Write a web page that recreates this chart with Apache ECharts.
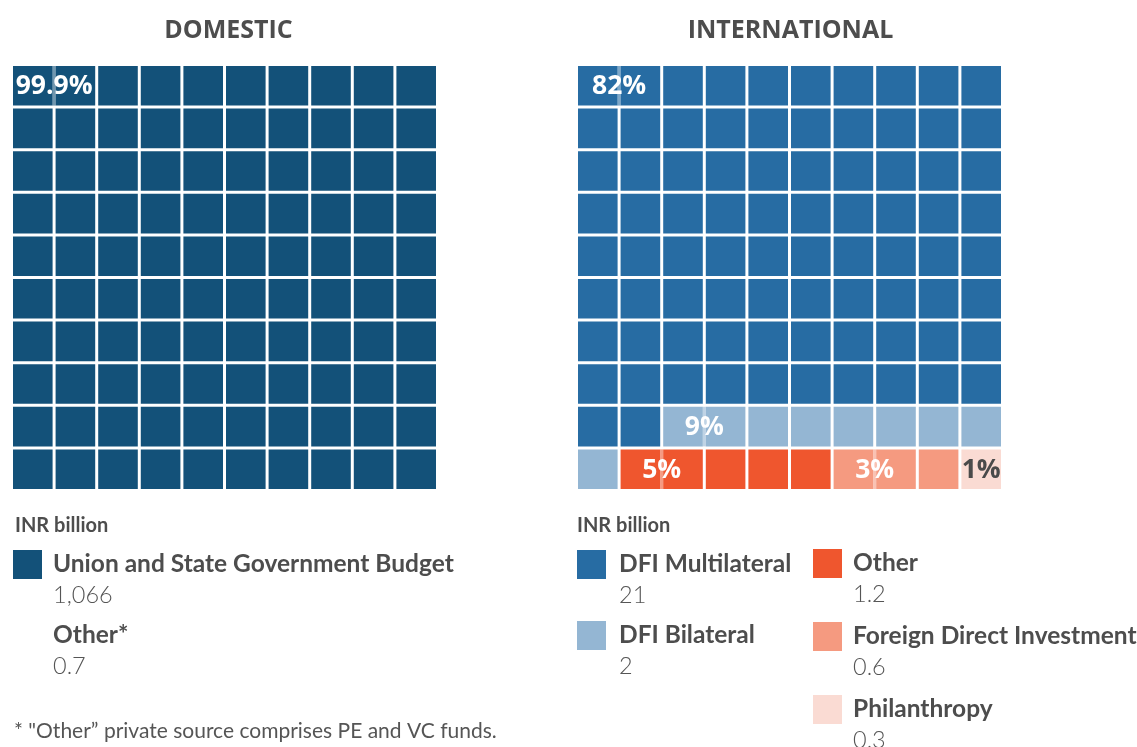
<!DOCTYPE html>
<html><head><meta charset="utf-8">
<script src="https://cdn.jsdelivr.net/npm/echarts@6/dist/echarts.min.js"></script>
<style>html,body{margin:0;padding:0;background:#fff}#c{width:1137px;height:747px}</style>
</head><body><div id="c"></div>
<script>
// ---- data ----
const panelTitles = ['DOMESTIC', 'INTERNATIONAL'];
const domNames = ['Union and State Government Budget', 'Other*'];
const domValues = ['1,066', '0.7'];
const domCells = [100, 0];
const domPct = ['99.9%', ''];
const domColors = ['#135179', null];

const intlNames = ['DFI Multilateral', 'DFI Bilateral', 'Other', 'Foreign Direct Investment', 'Philanthropy'];
const intlValues = ['21', '2', '1.2', '0.6', '0.3'];
const intlCells = [82, 9, 5, 3, 1];
const intlPct = ['82%', '9%', '5%', '3%', '1%'];
const intlColors = ['#276CA3', '#94B6D3', '#EF562E', '#F59A80', '#FADBD3'];
const intlPctColors = ['#fff', '#fff', '#fff', '#fff', '#4a4a4a'];

const unitLabel = 'INR billion';
const footnote = '* "Other\u201D private source comprises PE and VC funds.';

// ---- build ----
function cellsFrom(counts) {
  const out = []; let idx = 0;
  counts.forEach((n, k) => { for (let i = 0; i < n; i++) { out.push([idx % 10, Math.floor(idx / 10), k]); idx++; } });
  return out;
}
function labelsFrom(counts, pcts) {
  const out = []; let idx = 0;
  counts.forEach((n, k) => { if (n > 0 && pcts[k]) out.push([idx % 10, Math.floor(idx / 10), n, k]); idx += n; });
  return out;
}
const GAP = 3;
function cellRenderer(colors) {
  return function (params, api) {
    const c = api.coord([api.value(0), api.value(1)]);
    const s = api.size([1, 1]);
    const w = s[0] - GAP, h = s[1] - GAP;
    return { type: 'rect', shape: { x: c[0] - w / 2, y: c[1] - h / 2, width: w, height: h },
      style: { fill: colors[api.value(2)] } };
  };
}
function labelRenderer(colors, pcts, txtColors) {
  return function (params, api) {
    const c = api.coord([api.value(0), api.value(1)]);
    const s = api.size([1, 1]);
    const n = api.value(2), k = api.value(3);
    const cx = n >= 2 ? c[0] + s[0] / 2 : c[0];
    const h = s[1] - GAP;
    const children = [];
    if (n >= 2) children.push({ type: 'rect', shape: { x: cx - GAP / 2, y: c[1] - h / 2, width: GAP, height: h },
      style: { fill: colors[k], opacity: 0.6 } });
    children.push({ type: 'text', style: { text: pcts[k], x: cx, y: c[1] + 1, align: 'center', verticalAlign: 'middle',
      fill: txtColors ? txtColors[k] : '#fff', fontFamily: 'Open Sans', fontWeight: 'bold', fontSize: 26.5 } });
    return { type: 'group', children };
  };
}

const grids = [
  { left: 11.5, top: 64.5, width: 426, height: 426 },
  { left: 576.5, top: 64.5, width: 426, height: 426 }
];
const axX = grids.map((g, i) => ({ gridIndex: i, type: 'value', min: -0.5, max: 9.5, show: false }));
const axY = grids.map((g, i) => ({ gridIndex: i, type: 'value', min: -0.5, max: 9.5, inverse: true, show: false }));

const series = [
  { type: 'custom', xAxisIndex: 0, yAxisIndex: 0, data: cellsFrom(domCells), renderItem: cellRenderer(domColors), silent: true },
  { type: 'custom', xAxisIndex: 0, yAxisIndex: 0, data: labelsFrom(domCells, domPct), renderItem: labelRenderer(domColors, domPct), silent: true, z: 3 },
  { type: 'custom', xAxisIndex: 1, yAxisIndex: 1, data: cellsFrom(intlCells), renderItem: cellRenderer(intlColors), silent: true },
  { type: 'custom', xAxisIndex: 1, yAxisIndex: 1, data: labelsFrom(intlCells, intlPct), renderItem: labelRenderer(intlColors, intlPct, intlPctColors), silent: true, z: 3 }
];

// legend graphics
const TXT = '#4d4d4d';
function legendBlock(x, y0, names, values, colors, textDx, pitch) {
  const els = [];
  names.forEach((nm, i) => {
    const y = y0 + i * pitch;
    if (colors[i]) els.push({ type: 'rect', left: x, top: y, shape: { width: 29, height: 29 }, style: { fill: colors[i] } });
    els.push({ type: 'text', x: x + textDx, y: y + 14, style: { text: nm, fill: TXT, fontFamily: 'Lato', fontWeight: 'bold', fontSize: 24.5, verticalAlign: 'middle' } });
    els.push({ type: 'text', x: x + textDx, y: y + 45, style: { text: values[i], fill: '#555', fontFamily: 'Lato', fontWeight: 300, fontSize: 23.5, verticalAlign: 'middle' } });
  });
  return els;
}
const graphic = [
  { type: 'text', x: 15, y: 526, style: { text: unitLabel, fill: TXT, fontFamily: 'Lato', fontWeight: 'bold', fontSize: 20, verticalAlign: 'middle' } },
  { type: 'text', x: 577, y: 526, style: { text: unitLabel, fill: TXT, fontFamily: 'Lato', fontWeight: 'bold', fontSize: 20, verticalAlign: 'middle' } },
  ...legendBlock(13, 550, domNames, domValues, domColors, 40, 71),
  ...legendBlock(577, 550, intlNames.slice(0, 2), intlValues.slice(0, 2), intlColors.slice(0, 2), 42, 71),
  ...legendBlock(813, 549, intlNames.slice(2), intlValues.slice(2), intlColors.slice(2), 40, 73),
  { type: 'text', x: 14, y: 731, style: { text: footnote, fill: '#555', fontFamily: 'Lato', fontSize: 21, verticalAlign: 'middle' } }
];

const chart = echarts.init(document.getElementById('c'), null, { renderer: 'canvas' });
chart.setOption({
  animation: false,
  backgroundColor: '#fff',
  title: panelTitles.map((t, i) => ({
    text: t, left: i === 0 ? 228.5 : 790.5, top: 18, padding: 0, textAlign: 'center',
    textStyle: { color: '#4d4d4d', fontFamily: 'Open Sans', fontWeight: 'bold', fontSize: 25 }
  })),
  grid: grids, xAxis: axX, yAxis: axY, series, graphic
});
</script></body></html>
